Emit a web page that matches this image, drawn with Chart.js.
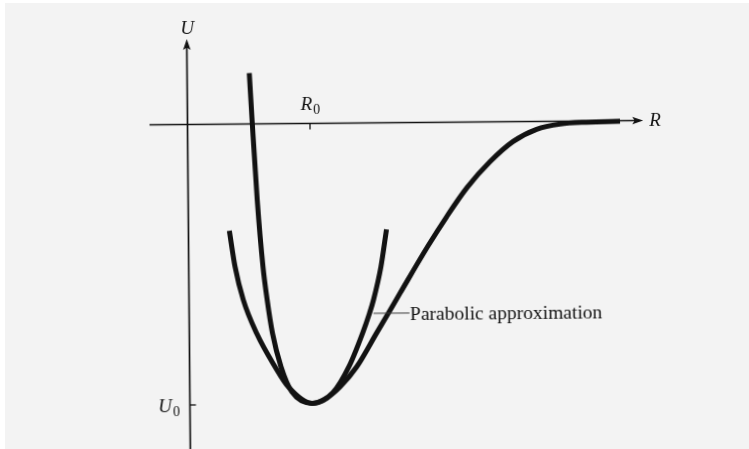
<!DOCTYPE html>
<html>
<head>
<meta charset="utf-8">
<title>U(R)</title>
<script src="https://cdn.jsdelivr.net/npm/chart.js@4/dist/chart.umd.min.js"></script>
<style>
  html, body { margin: 0; padding: 0; background: #fff; }
  #wrap { position: absolute; left: 0; top: 0; width: 749px; height: 449px; overflow: hidden; background: #fff; }
  #sheet { position: absolute; left: 5px; top: 3px; right: 0; bottom: 0; background: #f3f3f3; }
  #chart { position: absolute; left: 0; top: 0; transform: rotate(-0.5deg); transform-origin: 187.5px 124.5px; }
</style>
</head>
<body>
<div id="wrap">
  <div id="sheet"></div>
  <canvas id="chart" width="749" height="449"></canvas>
</div>
<script>
// potential energy curve, R in units of R0, U in units of |U0|
const morseR = [0.508, 0.529, 0.564, 0.606, 0.638, 0.679, 0.746, 0.834, 1.000, 1.103, 1.226, 1.364,
                1.528, 1.626, 1.723, 1.951, 2.109, 2.275, 2.467, 2.656, 2.850, 3.041, 3.259, 3.531];
const morseU = [0.181, 0.002, -0.271, -0.509, -0.628, -0.747, -0.866, -0.957, -0.998, -0.983, -0.940, -0.869,
                -0.750, -0.679, -0.608, -0.443, -0.337, -0.235, -0.142, -0.071, -0.028, -0.010, -0.004, -0.002];

// parabola around the minimum
const parabR = [0.334, 0.378, 0.443, 0.550, 0.697, 0.804, 1.000, 1.169, 1.301, 1.414, 1.472, 1.506, 1.569, 1.617];
const parabU = [-0.380, -0.508, -0.627, -0.747, -0.866, -0.938, -0.998, -0.960, -0.868, -0.750, -0.679, -0.631, -0.513, -0.380];

// axes: extent, labelled ticks, names
const rAxis = [-0.31, 3.72];
const uAxis = [-1.2, 0.305];
const rTicks = [1];
const rTickLabels = [['R', '0']];
const uTicks = [-1];
const uTickLabels = [['U', '0']];
const axisNames = ['R', 'U'];

// callout on the parabola
const calloutText = 'Parabolic approximation';
const calloutIndex = 10;

const INK = '#121212';
const ITALIC = 'italic 19px "Liberation Serif"';
const SUB = '14px "Liberation Serif"';

const toPoints = (xs, ys) => xs.map((x, i) => ({ x, y: ys[i] }));

function arrowHead(ctx, tx, ty, angle) {
  ctx.save();
  ctx.translate(tx, ty);
  ctx.rotate(angle);
  ctx.beginPath();
  ctx.moveTo(0, 0);
  ctx.lineTo(-11, -3.8);
  ctx.lineTo(-8.5, 0);
  ctx.lineTo(-11, 3.8);
  ctx.closePath();
  ctx.fill();
  ctx.restore();
}

// "R" + subscript "0"; align is where px sits on the whole label
function subscripted(ctx, pair, px, py, align) {
  ctx.font = ITALIC;
  const wMain = ctx.measureText(pair[0]).width;
  ctx.font = SUB;
  const wSub = ctx.measureText(pair[1]).width;
  const total = wMain + 1 + wSub;
  const left = align === 'center' ? px - total / 2 : align === 'right' ? px - total : px;
  ctx.textAlign = 'left';
  ctx.textBaseline = 'alphabetic';
  ctx.font = ITALIC;
  ctx.fillText(pair[0], left, py);
  ctx.font = SUB;
  ctx.fillText(pair[1], left + wMain + 1, py + 4);
}

const axesPlugin = {
  id: 'axes',
  beforeDatasetsDraw(chart) {
    const { ctx, scales: { x, y } } = chart;
    const x0 = x.getPixelForValue(0);
    const y0 = y.getPixelForValue(0);
    ctx.save();
    ctx.strokeStyle = INK;
    ctx.fillStyle = INK;
    ctx.lineWidth = 1.7;

    const rLeft = x.getPixelForValue(rAxis[0]);
    const rTip = x.getPixelForValue(rAxis[1]);
    ctx.beginPath();
    ctx.moveTo(rLeft, y0);
    ctx.lineTo(rTip - 8, y0);
    ctx.stroke();
    arrowHead(ctx, rTip, y0, 0);

    const uBottom = y.getPixelForValue(uAxis[0]);
    const uTip = y.getPixelForValue(uAxis[1]);
    ctx.beginPath();
    ctx.moveTo(x0, uBottom);
    ctx.lineTo(x0, uTip + 8);
    ctx.stroke();
    arrowHead(ctx, x0, uTip, -Math.PI / 2);

    ctx.lineWidth = 1.3;
    rTicks.forEach(v => {
      const px = x.getPixelForValue(v);
      ctx.beginPath();
      ctx.moveTo(px, y0);
      ctx.lineTo(px, y0 + 6);
      ctx.stroke();
    });
    uTicks.forEach(v => {
      const py = y.getPixelForValue(v);
      ctx.beginPath();
      ctx.moveTo(x0, py);
      ctx.lineTo(x0 + 6, py);
      ctx.stroke();
    });
    ctx.restore();
  }
};

const labelsPlugin = {
  id: 'labels',
  afterDatasetsDraw(chart) {
    const { ctx, scales: { x, y } } = chart;
    const x0 = x.getPixelForValue(0);
    const y0 = y.getPixelForValue(0);
    ctx.save();
    ctx.fillStyle = INK;

    // axis names
    ctx.font = ITALIC;
    ctx.textBaseline = 'alphabetic';
    ctx.textAlign = 'left';
    ctx.fillText(axisNames[0], x.getPixelForValue(rAxis[1]) + 6, y0 + 5.5);
    ctx.textAlign = 'center';
    ctx.fillText(axisNames[1], x0 + 0.5, y.getPixelForValue(uAxis[1]) - 5);

    // tick labels
    rTicks.forEach((v, i) => subscripted(ctx, rTickLabels[i], x.getPixelForValue(v) + 0.5, y0 - 13.5, 'center'));
    uTicks.forEach((v, i) => subscripted(ctx, uTickLabels[i], x0 - 10, y.getPixelForValue(v) + 7, 'right'));

    // callout with leader
    const cx = x.getPixelForValue(parabR[calloutIndex]);
    const cy = y.getPixelForValue(parabU[calloutIndex]);
    ctx.strokeStyle = '#3a3a3a';
    ctx.lineWidth = 1;
    ctx.beginPath();
    ctx.moveTo(cx + 4, cy);
    ctx.lineTo(cx + 40, cy);
    ctx.stroke();
    ctx.font = '19.5px "Liberation Serif"';
    ctx.textAlign = 'left';
    ctx.fillText(calloutText, cx + 40.5, cy + 7.5);
    ctx.restore();
  }
};

const curve = {
  showLine: true,
  pointRadius: 0,
  pointHoverRadius: 0,
  borderColor: INK,
  borderWidth: 5,
  borderCapStyle: 'butt',
  cubicInterpolationMode: 'monotone',
  fill: false
};

new Chart(document.getElementById('chart'), {
  type: 'scatter',
  data: {
    datasets: [
      { label: 'U(R)', data: toPoints(morseR, morseU), ...curve },
      { label: calloutText, data: toPoints(parabR, parabU), ...curve }
    ]
  },
  options: {
    responsive: false,
    animation: false,
    devicePixelRatio: 1,
    layout: { padding: 0 },
    plugins: { legend: { display: false }, tooltip: { enabled: false } },
    scales: {
      x: { type: 'linear', display: false, min: -1.5306, max: 4.5837 },
      y: { type: 'linear', display: false, min: -1.1569, max: 0.4439 }
    }
  },
  plugins: [axesPlugin, labelsPlugin]
});
</script>
</body>
</html>
